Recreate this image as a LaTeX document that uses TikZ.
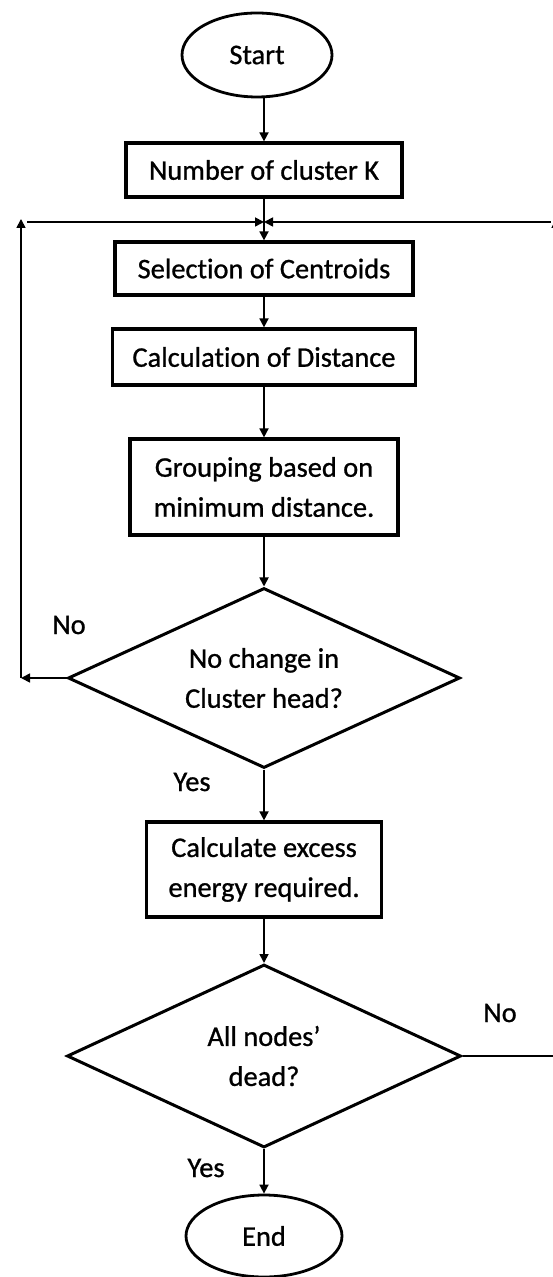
\documentclass[tikz,border=0pt]{standalone}
\usepackage{fontspec}
\setmainfont{Carlito}[Ligatures=NoCommon,FakeBold=0.9]
\usetikzlibrary{positioning,shapes.geometric,arrows.meta}
\tikzset{
    every node/.style={font={\fontsize{14.2}{20}\selectfont}},
    box/.style={draw, line width=1.6pt, rectangle, align=center, inner sep=0pt},
    decision/.style={draw, line width=1.5pt, diamond, aspect=2.2, align=center, inner sep=0pt},
    terminal/.style={draw, line width=1.4pt, ellipse, inner sep=0pt},
    flow/.style={line width=0.85pt, -{Triangle[length=4.5pt,width=4.5pt]}}
}

\begin{document}
\begin{tikzpicture}[x=0.5pt,y=-0.5pt]
\useasboundingbox (0,0) rectangle (552,1277);

\node[terminal, minimum width=75pt, minimum height=42pt] (start) at (257,55) {Start};
\node[box, minimum width=138pt, minimum height=27pt] (k) at (264,170) {Number of cluster K};
\node[box, minimum width=149pt, minimum height=26.5pt] (sel) at (264,268.5) {Selection of Centroids};
\node[box, minimum width=151.5pt, minimum height=28pt] (dist) at (264,357) {Calculation of Distance};
\node[box, minimum width=134pt, minimum height=48pt] (grp) at (264,487) {Grouping based on\\minimum distance.};
\node[decision, minimum width=196pt, minimum height=90pt] (chg) at (264,678) {No change in\\Cluster head?};
\node[box, minimum width=117.5pt, minimum height=47.5pt] (excess) at (264,869.5) {Calculate excess\\energy required.};
\node[decision, minimum width=197pt, minimum height=91.5pt] (dead) at (264,1056) {All nodes'\\dead?};
\node[terminal, minimum width=78pt, minimum height=41pt] (stop) at (264,1236) {End};

% labels of the branches
\node (no1) at (69,625) {No};
\node (yes1) at (192,782) {Yes};
\node (no2) at (500,1013) {No};
\node (yes2) at (206,1168) {Yes};

% points of the loops
\coordinate (jn) at (264,222);
\coordinate (lc) at (21,678);
\coordinate (lt) at (21,219);
\coordinate (ls) at (27,222);
\coordinate (rc) at (556,1056);
\coordinate (rt) at (556,219);
\coordinate (rs) at (551,222);

\draw[flow] (k.north |- start.south) -- (k.north);
\draw[flow] (k) -- (sel);
\draw[flow] (sel) -- (dist);
\draw[flow] (dist) -- (grp);
\draw[flow] (grp) -- (chg);
\draw[flow] (chg) -- (excess);
\draw[flow] (excess) -- (dead);
\draw[flow] (dead) -- (stop);

\draw[flow] (chg.west) -- (lc);
\draw[flow] (lc) -- (lt);
\draw[flow] (ls) -- (jn);
\draw[line width=0.85pt] (dead.east) -- (rc);
\draw[flow] (rc) -- (rt);
\draw[flow] (rs) -- (jn);
\end{tikzpicture}
\end{document}
